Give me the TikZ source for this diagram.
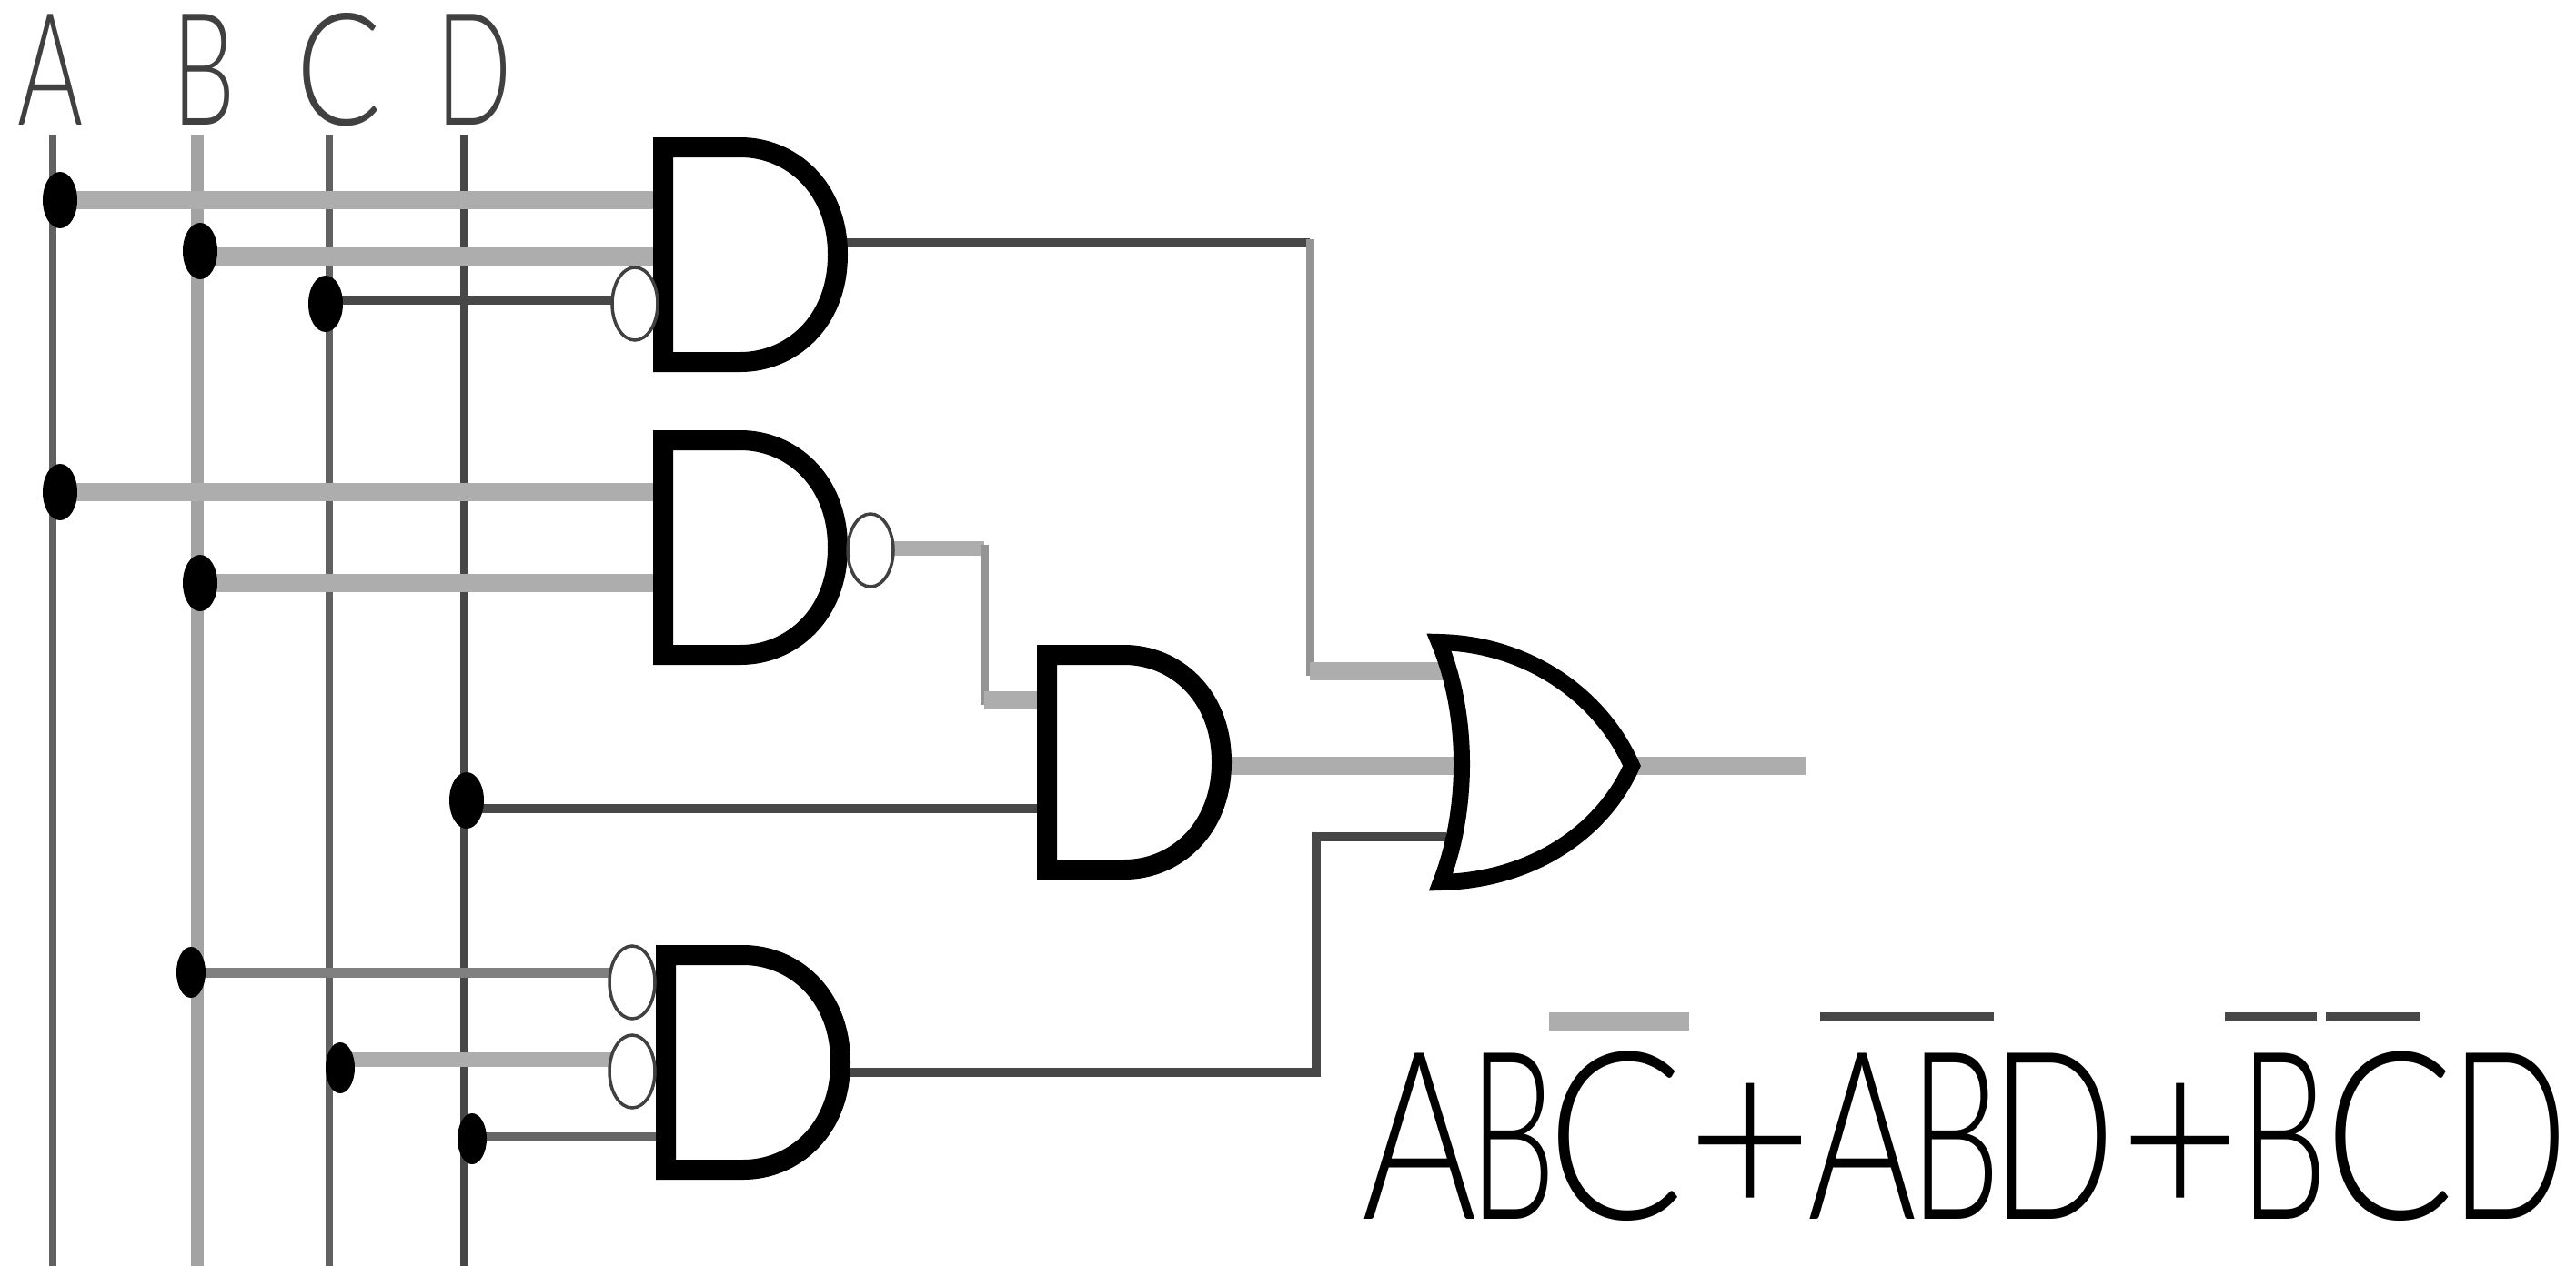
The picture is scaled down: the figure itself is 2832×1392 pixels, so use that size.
\documentclass[tikz,border=0pt]{standalone}
\usepackage{fontspec}
\setmainfont{Liberation Sans}
\newfontfamily\thinsans{Lato Light}
\usetikzlibrary{shapes.geometric}
\newcommand\fg[3]{\makebox[0pt][l]{\hspace*{#1pt}\scalebox{#2}[1]{#3}}}
\tikzset{
  x=1pt,y=-1pt,
  vdark/.style={draw=black!72,line width=8pt},
  vmid/.style={draw=black!62,line width=8pt},
  vlight/.style={draw=black!36,line width=14pt},
  hlight/.style={draw=black!32,line width=20pt},
  hdark/.style={draw=black!72,line width=10pt},
  hthin/.style={draw=black!42,line width=9pt,line cap=rect},
  gatestroke/.style={draw=black,fill=white,line width=22pt,line join=miter},
  bubble/.style={ellipse,draw=black!75,fill=white,line width=3.5pt,minimum width=50pt,minimum height=80pt,inner sep=0pt},
  dot/.style={ellipse,fill=black,minimum width=38pt,minimum height=62pt,inner sep=0pt},
  inlabel/.style={anchor=base west,inner sep=0pt,xscale=11,yscale=17.2,text=black!75,font=\thinsans},
  formula/.style={anchor=base west,inner sep=0pt,yscale=25.8,text=black,font=\thinsans},
  overbar/.style={fill=#1,draw=none},
  andgate/.pic={
    \draw[gatestroke] (0,-118) -- (85,-118) .. controls (140,-118) and (192,-75) .. (192,0)
      .. controls (192,75) and (140,118) .. (85,118) -- (0,118) -- cycle;
  }
}
\begin{document}
\begin{tikzpicture}
\useasboundingbox (0,0) rectangle (2832,1392);
% rails
\coordinate (topA) at (58,148);  \coordinate (botA) at (58,1392);
\coordinate (topB) at (217,148); \coordinate (botB) at (217,1392);
\coordinate (topC) at (362,148); \coordinate (botC) at (362,1392);
\coordinate (topD) at (510,148); \coordinate (botD) at (510,1392);
\draw[vmid] (topA) -- (botA);
\draw[vlight] (topB) -- (botB);
\draw[vmid] (topC) -- (botC);
\draw[vdark] (topD) -- (botD);
% junction positions
\coordinate (jA1) at (66,220);  \coordinate (jB1) at (220,276); \coordinate (jC1) at (358,334);
\coordinate (jA2) at (66,541);  \coordinate (jB2) at (220,641);
\coordinate (jD1) at (513,880);
\coordinate (jB3) at (210,1069); \coordinate (jC3) at (374,1174); \coordinate (jD3) at (519,1252);
% gate pins
\coordinate (g1a) at (725,220); \coordinate (g1b) at (725,282); \coordinate (g1c) at (690,330);
\coordinate (g1o) at (925,267); \coordinate (c1) at (1440,267); \coordinate (c2) at (1440,738);
\coordinate (ora) at (1590,738);
\coordinate (g2a) at (725,541); \coordinate (g2b) at (725,641);
\coordinate (g2o) at (975,603); \coordinate (c3) at (1082,603); \coordinate (c4) at (1082,770);
\coordinate (g3a) at (1150,770); \coordinate (g3b) at (1150,889);
\coordinate (g3o) at (1345,842); \coordinate (orb) at (1606,842);
\coordinate (oro) at (1790,842); \coordinate (out) at (1985,842);
\coordinate (g4a) at (690,1069); \coordinate (g4b) at (690,1165); \coordinate (g4c) at (730,1250);
\coordinate (g4o) at (925,1179); \coordinate (c5) at (1447,1179); \coordinate (c6) at (1447,920);
\coordinate (orc) at (1590,920);
% wires
\draw[hlight] (jA1) -- (g1a);
\draw[hlight] (jB1 |- g1b) -- (g1b);
\draw[hdark] (jC1 |- g1c) -- (g1c);
\draw[hdark] (g1o) -- (c1);
\draw[hthin] (c1) -- (c2);
\draw[hlight] (c2) -- (ora);
\draw[hlight] (jA2) -- (g2a);
\draw[hlight] (jB2) -- (g2b);
\draw[hlight,line width=16pt] (g2o) -- (c3);
\draw[hthin] (c3) -- (c4);
\draw[hlight] (c4) -- (g3a);
\draw[hdark] (jD1 |- g3b) -- (g3b);
\draw[hlight] (g3o) -- (orb);
\draw[hlight] (oro) -- (out);
\draw[hlight,line width=11pt,draw=black!50] (jB3) -- (g4a);
\draw[hlight,line width=16pt] (jC3 |- g4b) -- (g4b);
\draw[hdark,draw=black!60] (jD3 |- g4c) -- (g4c);
\draw[hdark] (g4o) -- (c5) -- (c6) -- (orc);
% gates
\pic (gateone) at (729,280) {andgate};
\pic (gatetwo) at (729,602) {andgate};
\pic (gatethree) at (1151,838) {andgate};
\pic (gatefour) at (732,1168) {andgate};
\draw[draw=black,fill=white,line width=18pt,line join=miter,miter limit=3]
  (1582,706) .. controls (1680,708) and (1760,765) .. (1794,842)
  .. controls (1760,918) and (1680,968) .. (1584,970)
  .. controls (1615,890) and (1615,785) .. cycle;
% bubbles
\node[bubble] (bub1) at (698,334) {};
\node[bubble] (bub2) at (957,605) {};
\node[bubble] (bub3) at (695,1080) {};
\node[bubble] (bub4) at (695,1178) {};
% dots
\node[dot] (dA1) at (jA1) {};
\node[dot] (dB1) at (jB1) {};
\node[dot] (dC1) at (jC1) {};
\node[dot] (dA2) at (jA2) {};
\node[dot] (dB2) at (jB2) {};
\node[dot] (dD1) at (jD1) {};
\node[dot,minimum width=32pt,minimum height=56pt] (dB3) at (jB3) {};
\node[dot,minimum width=32pt,minimum height=56pt] (dC3) at (jC3) {};
\node[dot,minimum width=32pt,minimum height=56pt] (dD3) at (jD3) {};
% labels
\node[inlabel] (labA) at (17,137) {A};
\node[inlabel] (labB) at (187,137) {B};
\node[inlabel,xscale=1.27] (labC) at (323,137) {C};
\node[inlabel] (labD) at (477,137) {D};
\node[formula] (expr) at (1400,1340) {\fg{97}{19.3}{A}\fg{215}{15.1}{B}\fg{300}{22.4}{C}\fg{454}{24}{+}\fg{587}{18.3}{A}\fg{699}{15.9}{B}\fg{788}{18.1}{D}\fg{930}{23}{+}\fg{1062}{15.3}{B}\fg{1155}{21.2}{C}\fg{1293}{17.1}{D}};
\fill[overbar=black!32] (1703,1113) rectangle (1857,1133);
\fill[overbar=black!72] (2001,1113) rectangle (2192,1123);
\fill[overbar=black!72] (2446,1113) rectangle (2547,1123);
\fill[overbar=black!72] (2557,1113) rectangle (2661,1123);
\end{tikzpicture}
\end{document}
